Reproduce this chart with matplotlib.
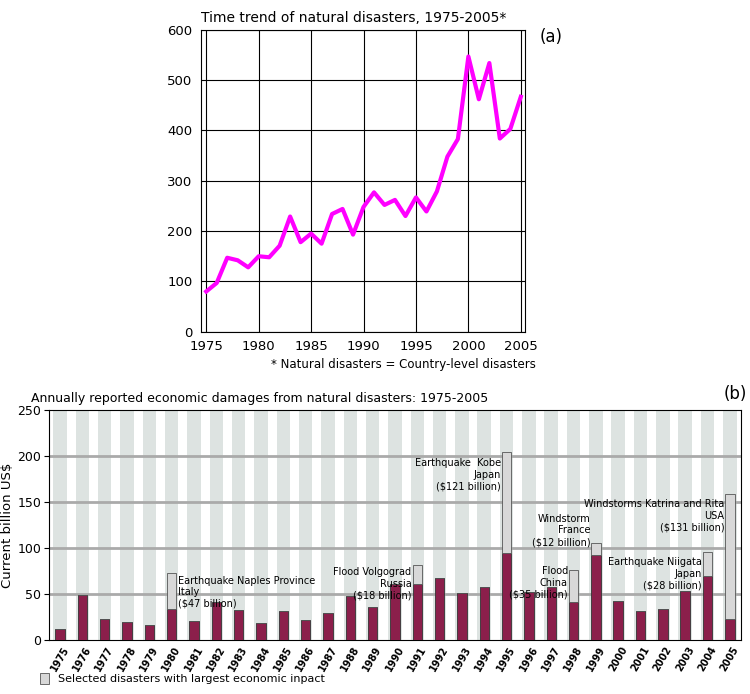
import matplotlib.pyplot as plt
import numpy as np

# (a) number of natural disasters per year
years = list(range(1975, 2006))
disasters = [80, 97, 147, 142, 128, 150, 148, 171, 229, 178, 195, 175, 234, 244, 193,
             248, 277, 252, 262, 230, 267, 239, 279, 348, 383, 547, 462, 534, 384, 403, 467]

# (b) economic damages, billion US$
damages = [12, 49, 23, 19, 16, 34, 20, 41, 32, 18, 31, 22, 29, 48, 36,
           61, 61, 67, 51, 57, 95, 52, 57, 41, 92, 42, 31, 34, 53, 69, 23]
# extra from selected largest disasters (0 where none)
selected = [0, 0, 0, 0, 0, 39, 0, 0, 0, 0, 0, 0, 0, 0, 0,
            0, 20, 0, 0, 0, 109, 0, 0, 35, 13, 0, 0, 0, 0, 27, 136]
notes = {
    1980: "Earthquake Naples Province\nItaly\n($47 billion)",
    1991: "Flood Volgograd\nRussia\n($18 billion)",
    1995: "Earthquake  Kobe\nJapan\n($121 billion)",
    1998: "Flood\nChina\n($35 billion)",
    1999: "Windstorm\nFrance\n($12 billion)",
    2004: "Earthquake Niigata\nJapan\n($28 billion)",
    2005: "Windstorms Katrina and Rita\nUSA\n($131 billion)",
}

fig = plt.figure(figsize=(7.5, 6.94), dpi=100)

# ---- top chart
ax1 = fig.add_axes([0.268, 0.522, 0.432, 0.435])
ax1.plot(years, disasters, color='#ff00ff', lw=3)
ax1.set_xlim(1974.5, 2005.4)
ax1.set_ylim(0, 600)
ax1.set_xticks(range(1975, 2006, 5))
ax1.set_yticks(range(0, 601, 100))
ax1.grid(True, color='black', lw=0.8)
ax1.tick_params(length=0, labelsize=9.5, pad=6)
ax1.set_title("Time trend of natural disasters, 1975-2005*", fontsize=10, loc='left', x=0)
fig.text(0.72, 0.94, "(a)", fontsize=12)
fig.text(0.715, 0.47, "* Natural disasters = Country-level disasters", fontsize=8.5, ha='right')

# ---- bottom chart
ax2 = fig.add_axes([0.065, 0.078, 0.923, 0.331])
x = np.arange(len(years))
for i in x:
    ax2.axvspan(i - 0.3, i + 0.3, color='#dde3e1', lw=0, zorder=0)
ax2.bar(x, damages, width=0.42, color='#8b1f4b', edgecolor='#333333', lw=0.6, zorder=3)
ax2.bar(x, selected, width=0.42, bottom=damages, color='#d8d8d8', edgecolor='#555555',
        lw=0.6, zorder=3, label='Selected disasters with largest economic inpact')
for yr, txt in notes.items():
    i = years.index(yr)
    top = damages[i] + selected[i]
    if yr == 1980:
        ax2.text(i + 0.3, top - 3, txt, fontsize=7, ha='left', va='top', zorder=4)
    elif yr == 1998:
        ax2.text(i - 0.25, top + 4, txt, fontsize=7, ha='right', va='top', zorder=4)
    elif yr == 1999:
        ax2.text(i - 0.25, top - 4, txt, fontsize=7, ha='right', va='bottom', zorder=4)
    else:
        ax2.text(i - 0.25, top - 6 if yr in (1995, 2005, 2004) else top - 2,
                 txt, fontsize=7, ha='right', va='top', zorder=4)
for yv in [50, 100, 150, 200]:
    ax2.axhline(yv, color='#aaaaaa', lw=2, zorder=1)
ax2.set_xlim(-0.5, len(years) - 0.5)
ax2.set_ylim(0, 250)
ax2.set_yticks(range(0, 251, 50))
ax2.set_xticks(x)
ax2.set_xticklabels(years, rotation=60, fontsize=7, fontweight='bold')
ax2.tick_params(axis='x', length=0)
ax2.tick_params(axis='y', labelsize=9, pad=2)
ax2.set_ylabel("Current billion US$", fontsize=9.5, labelpad=2)
ax2.set_title("Annually reported economic damages from natural disasters: 1975-2005",
              fontsize=9, loc='left', x=-0.025)
fig.text(0.965, 0.425, "(b)", fontsize=12)
h, l = ax2.get_legend_handles_labels()
fig.legend(h, l, loc='lower left', bbox_to_anchor=(0.04, 0.0), frameon=False, fontsize=8,
           handlelength=0.8, handleheight=1.2)

fig.savefig('out.png')
